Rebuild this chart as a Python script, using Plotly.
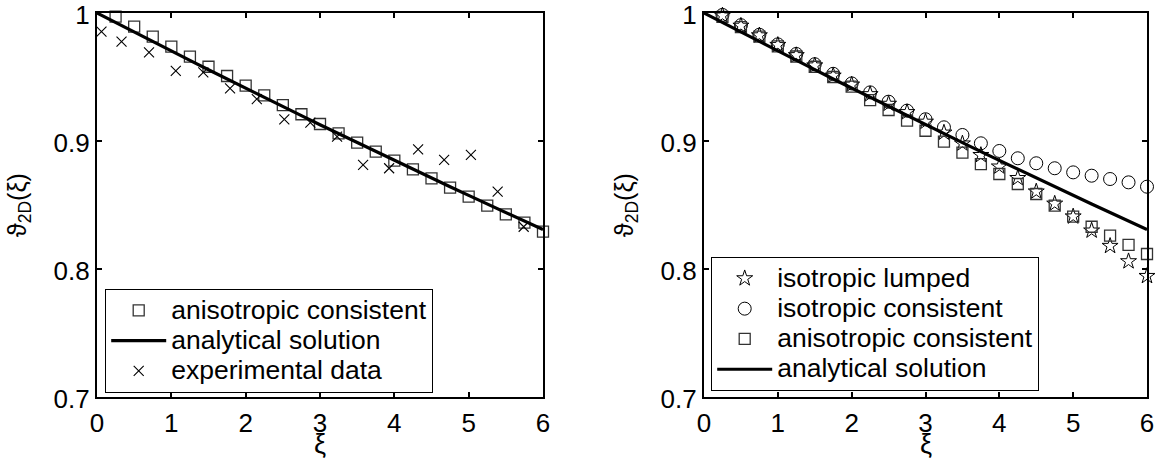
import plotly.graph_objects as go

# ---------------- data ----------------
xi_nodes = [0.25, 0.5, 0.75, 1.0, 1.25, 1.5, 1.75, 2.0, 2.25, 2.5, 2.75, 3.0,
            3.25, 3.5, 3.75, 4.0, 4.25, 4.5, 4.75, 5.0, 5.25, 5.5, 5.75, 6.0]

xi_analytic = [0.0, 0.25, 0.5, 0.75, 1.0, 1.25, 1.5, 1.75, 2.0, 2.25, 2.5, 2.75, 3.0,
               3.25, 3.5, 3.75, 4.0, 4.25, 4.5, 4.75, 5.0, 5.25, 5.5, 5.75, 6.0]
theta_analytic = [1.0000, 0.9925, 0.9851, 0.9777, 0.9703, 0.9630, 0.9557, 0.9484, 0.9412,
                  0.9340, 0.9269, 0.9198, 0.9127, 0.9057, 0.8987, 0.8917, 0.8848,
                  0.8779, 0.8711, 0.8643, 0.8575, 0.8508, 0.8441, 0.8374, 0.8308]

# left panel
aniso_left = [0.9971, 0.9893, 0.9815, 0.9737, 0.9659, 0.9580, 0.9508, 0.9432, 0.9357,
              0.9281, 0.9209, 0.9133, 0.9060, 0.8987, 0.8917, 0.8846, 0.8779, 0.8708,
              0.8635, 0.8565, 0.8495, 0.8427, 0.8362, 0.8292]

xi_exp = [0.06, 0.33, 0.70, 1.06, 1.43, 1.79, 2.15, 2.52, 2.87, 3.23, 3.58, 3.93,
          4.32, 4.67, 5.03, 5.39, 5.74]
theta_exp = [0.9854, 0.9776, 0.9693, 0.9547, 0.9536, 0.9411, 0.9328, 0.9169, 0.9143,
             0.9034, 0.8813, 0.8787, 0.8935, 0.8852, 0.8891, 0.8604, 0.8330]

# right panel
iso_lumped = [0.9980, 0.9900, 0.9825, 0.9750, 0.9670, 0.9590, 0.9510, 0.9440, 0.9365,
              0.9290, 0.9225, 0.9150, 0.9065, 0.8980, 0.8890, 0.8800, 0.8710, 0.8605,
              0.8510, 0.8410, 0.8300, 0.8180, 0.8060, 0.7945]
iso_consistent = [0.9985, 0.9905, 0.9830, 0.9755, 0.9680, 0.9600, 0.9525, 0.9450, 0.9380,
                  0.9307, 0.9237, 0.9170, 0.9107, 0.9047, 0.8982, 0.8922, 0.8865, 0.8826,
                  0.8787, 0.8755, 0.8729, 0.8703, 0.8677, 0.8643]
aniso_right = [0.9970, 0.9890, 0.9815, 0.9740, 0.9660, 0.9580, 0.9500, 0.9425, 0.9320,
               0.9242, 0.9159, 0.9080, 0.8995, 0.8909, 0.8820, 0.8742, 0.8664, 0.8586,
               0.8495, 0.8409, 0.8330, 0.8260, 0.8188, 0.8117]

x_ticks = [0, 1, 2, 3, 4, 5, 6]
y_ticks = [0.7, 0.8, 0.9, 1.0]
y_ticktext = ["0.7", "0.8", "0.9", "1"]
x_title = "ξ"
y_title = "ϑ<sub>2D</sub>(ξ)"

# ---------------- figure ----------------
W, H = 1159, 461
FONT = "Liberation Sans, Arial, sans-serif"
FS = 26        # tick label size
LEG_FS = 21    # legend base size (controls row spacing)
LEG_TXT = 26.5 # legend visible text size


def lg(name):
    return '<span style="font-size:%spx">%s</span>' % (LEG_TXT, name)


fig = go.Figure()

# left panel traces
fig.add_trace(go.Scatter(
    x=xi_nodes, y=aniso_left, mode="markers", name=lg("anisotropic consistent"),
    marker=dict(symbol="square-open", size=11, color="#333333", line=dict(width=1.3, color="#333333")),
    cliponaxis=False, xaxis="x", yaxis="y", legend="legend"))
fig.add_trace(go.Scatter(
    x=xi_analytic, y=theta_analytic, mode="lines", name=lg("analytical solution"),
    line=dict(color="black", width=3.2), cliponaxis=False, xaxis="x", yaxis="y", legend="legend"))
fig.add_trace(go.Scatter(
    x=xi_exp, y=theta_exp, mode="markers", name=lg("experimental data"),
    marker=dict(symbol="x-thin-open", size=10, color="black", line=dict(width=1.1, color="black")),
    cliponaxis=False, xaxis="x", yaxis="y", legend="legend"))

# right panel traces
fig.add_trace(go.Scatter(
    x=xi_nodes, y=iso_lumped, mode="markers", name=lg("isotropic lumped"),
    marker=dict(symbol="star-open", size=12, color="black", line=dict(width=1, color="black")),
    cliponaxis=False, xaxis="x2", yaxis="y2", legend="legend2"))
fig.add_trace(go.Scatter(
    x=xi_nodes, y=iso_consistent, mode="markers", name=lg("isotropic consistent"),
    marker=dict(symbol="circle-open", size=13, color="black", line=dict(width=1, color="black")),
    cliponaxis=False, xaxis="x2", yaxis="y2", legend="legend2"))
fig.add_trace(go.Scatter(
    x=xi_nodes, y=aniso_right, mode="markers", name=lg("anisotropic consistent"),
    marker=dict(symbol="square-open", size=11, color="#333333", line=dict(width=1.3, color="#333333")),
    cliponaxis=False, xaxis="x2", yaxis="y2", legend="legend2"))
fig.add_trace(go.Scatter(
    x=xi_analytic, y=theta_analytic, mode="lines", name=lg("analytical solution"),
    line=dict(color="black", width=3.2), cliponaxis=False, xaxis="x2", yaxis="y2", legend="legend2"))


def xaxis(domain, anchor):
    return dict(domain=domain, anchor=anchor, range=[0, 6], tickvals=x_ticks,
                ticks="inside", ticklen=5, tickwidth=1.5, tickcolor="black",
                showline=True, linewidth=2.2, linecolor="black", mirror="ticks",
                showgrid=False, zeroline=False, ticklabelstandoff=2,
                ticklabeloverflow="allow", automargin=False,
                tickfont=dict(family=FONT, size=FS, color="black"))


def yaxis(domain, anchor):
    return dict(domain=domain, anchor=anchor, range=[0.7, 1.0], tickvals=y_ticks,
                ticktext=y_ticktext, ticklabeloverflow="allow", automargin=False,
                ticklabelshift=2,
                ticks="inside", ticklen=5, tickwidth=1.5, tickcolor="black",
                showline=True, linewidth=2.2, linecolor="black", mirror="ticks",
                showgrid=False, zeroline=False,
                tickfont=dict(family=FONT, size=FS, color="black"),
                title=dict(text=y_title, font=dict(family=FONT, size=25, color="black"),
                           standoff=20))


xdom1 = [97 / W, 543 / W]
xdom2 = [704 / W, 1147 / W]
ydom = [1 - 397 / H, 1 - 13 / H]
legend_common = dict(xanchor="left", yanchor="top", bgcolor="white", bordercolor="black",
                     borderwidth=1.2, font=dict(family=FONT, size=LEG_FS, color="black"),
                     itemwidth=55, tracegroupgap=0)

annotations = [
    dict(text=x_title, xref="paper", yref="paper", x=sum(d) / 2, y=0,
         xanchor="center", yanchor="bottom", showarrow=False, yshift=0,
         font=dict(family=FONT, size=27, color="black"))
    for d in (xdom1, xdom2)
]

fig.update_layout(
    width=W, height=H,
    margin=dict(l=0, r=0, t=0, b=0),
    paper_bgcolor="white", plot_bgcolor="white",
    font=dict(family=FONT, size=FS, color="black"),
    xaxis=xaxis(xdom1, "y"),
    yaxis=yaxis(ydom, "x"),
    xaxis2=xaxis(xdom2, "y2"),
    yaxis2=yaxis(ydom, "x2"),
    legend=dict(x=105 / W, y=1 - 289 / H, **legend_common),
    legend2=dict(x=711 / W, y=1 - 257 / H, **legend_common),
    annotations=annotations,
    showlegend=True,
)

fig.write_html("out.html")
